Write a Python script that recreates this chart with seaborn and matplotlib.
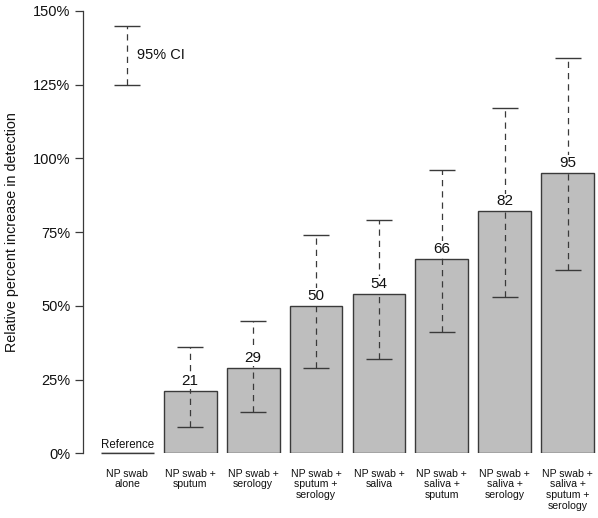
import numpy as np
import pandas as pd
import matplotlib
matplotlib.use("Agg")
import matplotlib.pyplot as plt
import seaborn as sns

# ============================
#  DATA
# ============================
categories = [
    "NP swab\nalone",
    "NP swab +\nsputum",
    "NP swab +\nserology",
    "NP swab +\nsputum +\nserology",
    "NP swab +\nsaliva",
    "NP swab +\nsaliva +\nsputum",
    "NP swab +\nsaliva +\nserology",
    "NP swab +\nsaliva +\nsputum +\nserology",
]
increase = [0, 21, 29, 50, 54, 66, 82, 95]
ci_low = [np.nan, 9, 14, 29, 32, 41, 53, 62]
ci_high = [np.nan, 36, 45, 74, 79, 96, 117, 134]
yticks = [0, 25, 50, 75, 100, 125, 150]

df = pd.DataFrame({"combo": categories, "increase": increase})

# ============================
#  PLOT
# ============================
sns.set_style("ticks")
plt.rcParams["font.family"] = ["Liberation Sans", "DejaVu Sans"]
plt.rcParams["text.color"] = "#111111"
plt.rcParams["axes.labelcolor"] = "#111111"
plt.rcParams["xtick.color"] = "#111111"
plt.rcParams["ytick.color"] = "#111111"

fig = plt.figure(figsize=(5.98, 5.18), dpi=100)
ax = fig.add_axes([0.139, 0.125, 0.861, 0.854])

edge = "#3a3a3a"
bar_w = 0.84
sns.barplot(data=df, x="combo", y="increase", color="#bebebe",
            saturation=1, width=bar_w, edgecolor=edge, linewidth=1.0,
            errorbar=None, ax=ax)

# error bars: dashed stems, solid caps
cap = 0.21
for i in range(1, len(categories)):
    ax.vlines(i, ci_low[i], ci_high[i], colors=edge, linestyles=(0, (5, 4)),
              linewidth=0.9, zorder=3)
    ax.hlines([ci_low[i], ci_high[i]], i - cap, i + cap, colors=edge,
              linewidth=1.0, zorder=3)
    ax.text(i, increase[i] + 1.0, str(increase[i]), ha="center", va="bottom",
            fontsize=11, zorder=4,
            bbox=dict(facecolor="white", edgecolor="none", pad=0.5))

# reference bar (zero height) drawn as an underline with its label
ax.hlines(0, -bar_w / 2, bar_w / 2, colors=edge, linewidth=1.0, clip_on=False, zorder=3)
ax.text(0, 2.7, "Reference", ha="center", va="center", fontsize=8.3)

# CI legend
ax.vlines(0, 125, 145, colors=edge, linestyles=(0, (5, 4)), linewidth=0.9)
ax.hlines([125, 145], -cap, cap, colors=edge, linewidth=1.0)
ax.text(0.15, 135, "95% CI", ha="left", va="center", fontsize=10.5)

ax.set_xlim(-0.7, 7.48)
ax.set_ylim(0, 150)
ax.set_yticks(yticks)
ax.set_yticklabels([f"{t}%" for t in yticks], fontsize=10.5)
ax.set_xticks(range(len(categories)))
ax.set_xticklabels(categories, fontsize=7.6, va="top", linespacing=1.1)
ax.tick_params(axis="x", length=0, pad=11)
ax.tick_params(axis="y", length=6, width=0.9, color=edge, pad=3)
ax.set_xlabel("")
ax.set_ylabel("Relative percent increase in detection", fontsize=10.3, labelpad=10)

sns.despine(ax=ax, bottom=True)
ax.spines["left"].set_color(edge)
ax.spines["left"].set_linewidth(0.9)

fig.savefig("out.png", dpi=100)
plt.close(fig)
